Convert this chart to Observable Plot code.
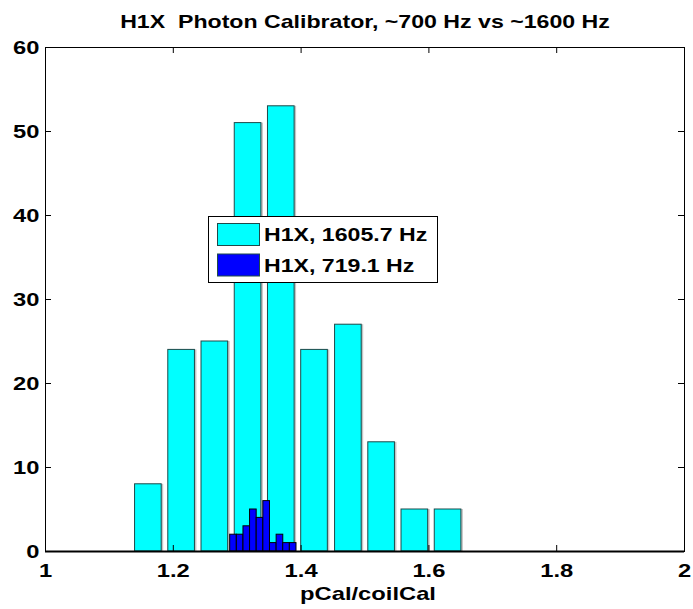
<!DOCTYPE html>
<html><head><meta charset="utf-8">
<script src="https://cdn.jsdelivr.net/npm/d3@7"></script>
<script src="https://cdn.jsdelivr.net/npm/@observablehq/plot@0.6"></script>
<style>
body{margin:0;background:#fff}
#chart svg{font-family:"Liberation Sans",Arial,sans-serif;font-weight:bold;overflow:visible}
</style>
</head><body><div id="chart"></div>
<script>
const cyanCenters = [1.161,1.213,1.265,1.317,1.369,1.421,1.474,1.526,1.578,1.630];
const cyanCounts  = [8,24,25,51,53,24,27,13,5,5];
const blueCenters = [1.2942,1.3046,1.3150,1.3253,1.3357,1.3461,1.3565,1.3669,1.3772,1.3876];
const blueCounts  = [2,2,3,5,4,6,1,2,1,1];
const xTicks = [1,1.2,1.4,1.6,1.8,2];
const yTicks = [0,10,20,30,40,50,60];
const seriesNames  = ["H1X, 1605.7 Hz","H1X, 719.1 Hz"];
const seriesColors = ["#00ffff","#0000ff"];
const titleText = "H1X  Photon Calibrator, ~700 Hz vs ~1600 Hz";
const xLabel = "pCal/coilCal";

const W = 693, H = 609;
const mL = 45, mR = 9, mT = 47, mB = 58;
const innerH = H - mT - mB, innerW = W - mL - mR;
const STRETCH = 1.25;

function bars(centers, counts, rel) {
  const step = (centers[centers.length-1] - centers[0]) / (centers.length - 1);
  return centers.map((c, i) => ({x1: c - step*rel/2, x2: c + step*rel/2, y: counts[i]}));
}
const cyanBars = bars(cyanCenters, cyanCounts, 0.8);
const blueBars = bars(blueCenters, blueCounts, 1.0);

const plot = Plot.plot({
  width: W, height: H,
  marginLeft: mL, marginRight: mR, marginTop: mT, marginBottom: mB,
  x: {domain: [1, 2]},
  y: {domain: [0, 60]},
  style: {fontSize: "19px", fontWeight: "bold", color: "#000", background: "#fff"},
  marks: [
    Plot.rectY(cyanBars, {x1: "x1", x2: "x2", y: "y", fill: "#c4c4c4", dx: 2}),
    Plot.rectY(cyanBars, {x1: "x1", x2: "x2", y: "y", fill: seriesColors[0], stroke: "#1f4a4a", strokeWidth: 1}),
    Plot.rectY(blueBars, {x1: "x1", x2: "x2", y: "y", fill: seriesColors[1], stroke: "#000", strokeWidth: 1}),
    Plot.tickX(xTicks, {x: d => d, insetTop: innerH - 6, stroke: "#000"}),
    Plot.tickX(xTicks, {x: d => d, insetBottom: innerH - 6, stroke: "#000"}),
    Plot.tickY(yTicks, {y: d => d, insetRight: innerW - 6, stroke: "#000"}),
    Plot.tickY(yTicks, {y: d => d, insetLeft: innerW - 6, stroke: "#000"}),
    Plot.frame({stroke: "#000", strokeWidth: 1}),
    Plot.ruleY([0], {stroke: "#000", strokeWidth: 2}),
    Plot.axisX(xTicks, {tickSize: 0, tickPadding: 12, label: null, tickFormat: d => String(d), fontSize: 19, fontWeight: "bold"}),
    Plot.axisY(yTicks, {tickSize: 0, tickPadding: 6, label: null, tickFormat: d => String(d), fontSize: 19, fontWeight: "bold"})
  ]
});
document.getElementById("chart").appendChild(plot);

const svg = d3.select(plot);
svg.append("text").attr("x", 365).attr("y", 28).style("text-anchor", "middle")
  .style("font-size", "18.5px").style("font-weight", "bold").style("fill", "#000").text(titleText);
svg.append("text").attr("x", 368).attr("y", 600).style("text-anchor", "middle")
  .style("font-size", "19px").style("font-weight", "bold").style("fill", "#000").text(xLabel);

// legend
const lg = svg.append("g");
lg.append("rect").attr("x", 208.5).attr("y", 216.5).attr("width", 229).attr("height", 66)
  .style("fill", "#fff").style("stroke", "#000").style("stroke-width", 1);
seriesNames.forEach((name, i) => {
  const y0 = 223.5 + i * 30.5;
  lg.append("rect").attr("x", 217.5).attr("y", y0).attr("width", 42).attr("height", 22)
    .style("fill", seriesColors[i]).style("stroke", "#1f4a4a").style("stroke-width", 1);
  lg.append("text").attr("x", 264).attr("y", y0 + 11).attr("dy", "0.36em")
    .style("text-anchor", "start")
    .style("font-size", "18.5px").style("font-weight", "bold").style("fill", "#000").text(name);
});

// widen all glyphs horizontally to match the reference's broad lettering
svg.selectAll("text").each(function() {
  const len = this.getComputedTextLength();
  if (len > 0) {
    this.setAttribute("textLength", (len * STRETCH).toFixed(1));
    this.setAttribute("lengthAdjust", "spacingAndGlyphs");
  }
});
</script>
</body></html>
